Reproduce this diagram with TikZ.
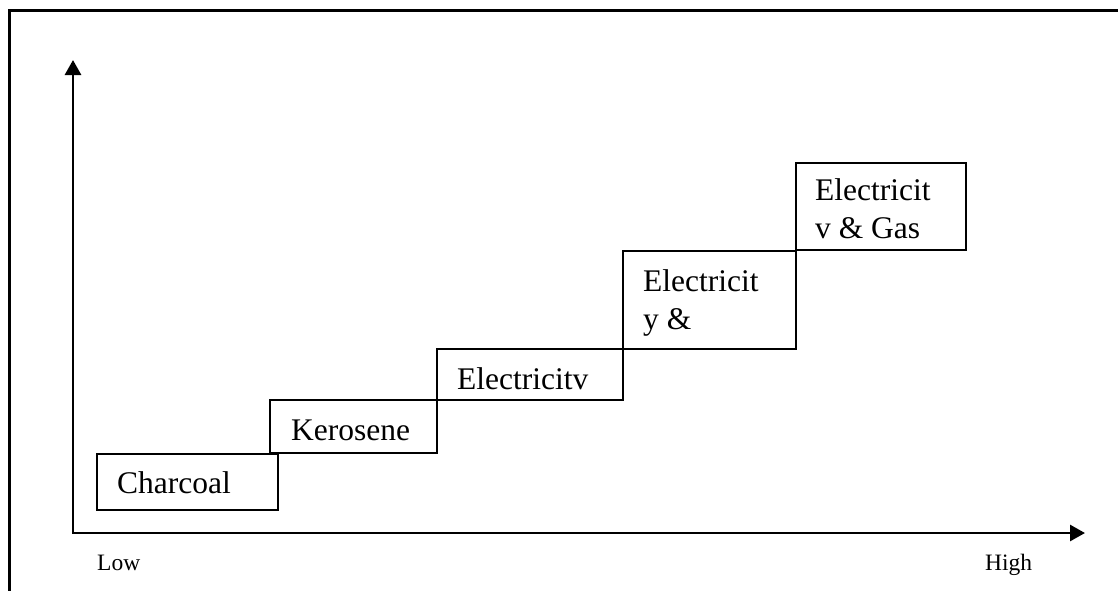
\documentclass[tikz,border=0pt]{standalone}
\usepackage{fontspec}
\setmainfont{Liberation Serif}
\usetikzlibrary{arrows.meta}
\begin{document}
\begin{tikzpicture}[x=1pt,y=-1pt,
  stepbox/.style={draw,line width=1.6pt,inner sep=0pt,anchor=north west},
  lbl/.style={inner sep=0pt,anchor=base west,font=\fontsize{31.5}{38}\selectfont,align=left},
  axlbl/.style={inner sep=0pt,anchor=base west,font=\fontsize{23.5}{28}\selectfont},
  axis/.style={line width=2.8pt,{Triangle[length=15pt,width=16pt]}-{Triangle[length=15pt,width=16pt]}}]
\useasboundingbox (0,0) rectangle (1118,590);
% open frame
\coordinate (fb) at (9,591);
\coordinate (ftl) at (9,10);
\coordinate (ftr) at (1119,10);
\draw[line width=3pt] (fb) -- (ftl) -- (ftr);
% boxes
\node[stepbox,minimum width=181pt,minimum height=56pt] (b1) at (96,453) {};
\node[stepbox,minimum width=167pt,minimum height=53pt] (b2) at (269,399) {};
\node[stepbox,minimum width=186pt,minimum height=51pt] (b3) at (436,348) {};
\node[stepbox,minimum width=173pt,minimum height=98pt] (b4) at (622,250) {};
\node[stepbox,minimum width=170pt,minimum height=87pt] (b5) at (795,162) {};
% texts
\node[lbl] (t1) at (117,493) {Charcoal};
\node[lbl] (t2) at (291,440) {Kerosene};
\node[lbl] (t3) at (457,389) {Electricitv};
\node[lbl] (t4) at (643,329) {Electricit\\y \&};
\node[lbl] (t5) at (815,238) {Electricit\\v \& Gas};
% axes
\coordinate (ytop) at (73,60);
\coordinate (origin) at (73,533);
\coordinate (xend) at (1085,533);
\draw[axis] (ytop) -- (origin) -- (xend);
\node[axlbl] (low) at (97,570) {Low};
\node[axlbl] (high) at (985,570) {High};
\end{tikzpicture}
\end{document}
